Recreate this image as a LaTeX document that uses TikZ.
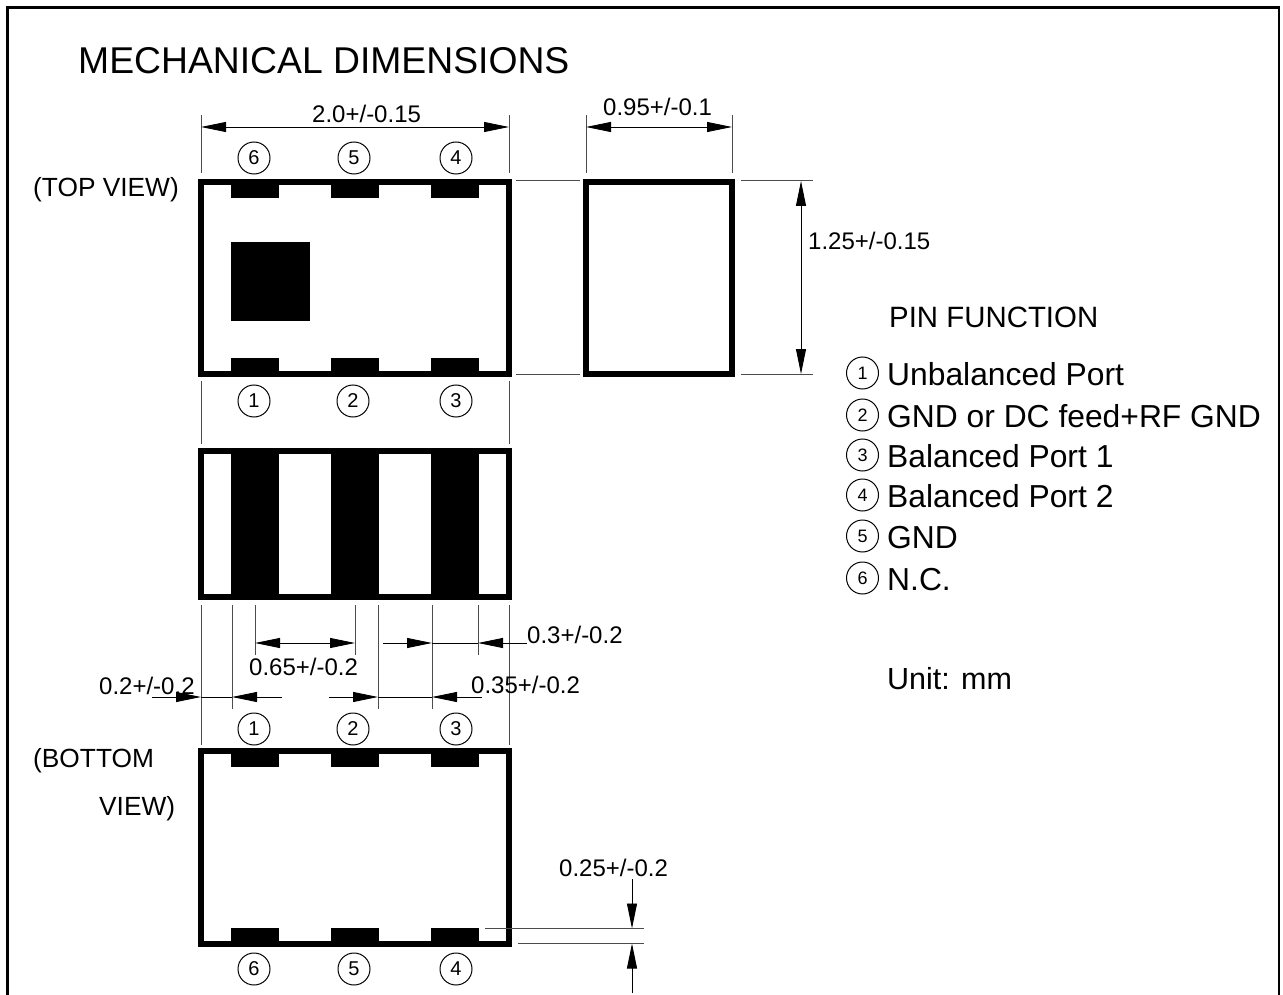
\documentclass[tikz,border=0pt]{standalone}
\usepackage{fontspec}
\setmainfont{Liberation Sans}
\usetikzlibrary{arrows.meta}
\tikzstyle{every node}=[inner sep=0pt,anchor=base west,text=black]
\tikzstyle{body}=[draw=black,line width=6pt]
\tikzstyle{pad}=[fill=black]
\tikzstyle{extline}=[draw=black!70,line width=1pt]
\tikzstyle{dimline}=[draw=black,line width=0.9pt]
\tikzstyle{pinmark}=[draw=black,line width=1pt,circle,minimum size=32pt,anchor=center,font=\fontsize{20}{20}\selectfont]
\tikzstyle{keymark}=[pinmark,font=\fontsize{18}{18}\selectfont]
\tikzstyle{dimtext}=[font=\fontsize{24}{24}\selectfont]
\tikzstyle{viewtext}=[font=\fontsize{26.3}{26.3}\selectfont]
\tikzstyle{pintext}=[font=\fontsize{31.8}{31.8}\selectfont]
\begin{document}
\begin{tikzpicture}[x=1pt,y=-1pt,>={Triangle[length=25pt,width=10pt]}]
    \useasboundingbox (0,0) rectangle (1283,995);
    \draw[line width=2.5pt] (7.5,995) -- (7.5,7.5) -- (1279,7.5) -- (1279,995);
    \node[font=\fontsize{37.3}{37.3}\selectfont] (title) at (78,74) {MECHANICAL DIMENSIONS};
    \node[viewtext] (topview) at (33,197) {(TOP VIEW)};
    \node[viewtext] (bottomview) at (33,767) {(BOTTOM};
    \node[viewtext] (bottomview2) at (99,815) {VIEW)};
    % views
    \foreach \x in {231,331,431} {
        \fill[pad] (\x,182) rectangle +(48,16);
        \fill[pad] (\x,358) rectangle +(48,16);
        \fill[pad] (\x,451) rectangle +(48,146);
        \fill[pad] (\x,751) rectangle +(48,16);
        \fill[pad] (\x,928) rectangle +(48,16);
    }
    \fill[pad] (231,242) rectangle (310,321);
    \draw[body] (201,182) rectangle (509,374);
    \draw[body] (586,182) rectangle (732,374);
    \draw[body] (201,451) rectangle (509,597);
    \draw[body] (201,751) rectangle (509,944);
    % pin numbers
    \foreach \n/\x in {6/254,5/354,4/456} {
        \node[pinmark] (top\n) at (\x,158) {\n};
        \node[pinmark] (bot\n) at (\x,969) {\n};
    }
    \foreach \n/\x in {1/254,2/353,3/456} {
        \node[pinmark] (mid\n) at (\x,401) {\n};
        \node[pinmark] (low\n) at (\x,729) {\n};
    }
    % extension lines
    \foreach \x in {201,509,586,732} \draw[extline] (\x,115) -- (\x,173);
    \foreach \x in {201,509} {
        \draw[extline] (\x,381) -- (\x,444);
        \draw[extline] (\x,605) -- (\x,745);
    }
    \foreach \x in {232,378,432} \draw[extline] (\x,605) -- (\x,709);
    \foreach \x in {255,355,478} \draw[extline] (\x,605) -- (\x,655);
    \foreach \y in {181,374} {
        \draw[extline] (516,\y) -- (580,\y);
        \draw[extline] (741,\y) -- (813,\y);
    }
    \draw[extline] (485,928.5) -- (644,928.5);
    \draw[extline] (518,943.5) -- (644,943.5);
    % dimensions
    \draw[dimline,<->] (201,127) -- (509,127);
    \draw[dimline,<->] (586,127) -- (732,127);
    \draw[dimline,<->] (801,181) -- (801,374);
    \draw[dimline,<->] (255,643) -- (355,643);
    \draw[dimline,->] (383,643) -- (432,643);
    \draw[dimline,<-] (478,643) -- (527,643);
    \draw[dimline] (432,643) -- (478,643);
    \draw[dimline,->] (152,697) -- (201,697);
    \draw[dimline] (201,697) -- (232,697);
    \draw[dimline,<-] (232,697) -- (282,697);
    \draw[dimline,->] (329,697) -- (378,697);
    \draw[dimline] (378,697) -- (432,697);
    \draw[dimline,<-] (432,697) -- (482,697);
    \draw[dimline,->] (632,879) -- (632,928.5);
    \draw[dimline,<-] (632,943.5) -- (632,993);
    \node[dimtext] (width) at (312,123) {2.0+/-0.15};
    \node[dimtext] (thick) at (603,116) {0.95+/-0.1};
    \node[dimtext] (length) at (808,250) {1.25+/-0.15};
    \node[dimtext] (pitch) at (249,675) {0.65+/-0.2};
    \node[dimtext] (edge) at (99,694) {0.2+/-0.2};
    \node[dimtext] (gap) at (471,693) {0.35+/-0.2};
    \node[dimtext] (side) at (527,643) {0.3+/-0.2};
    \node[dimtext] (padh) at (559,876) {0.25+/-0.2};
    % pin function
    \node[font=\fontsize{29.4}{29.4}\selectfont] (pinfunction) at (889,327) {PIN FUNCTION};
    \foreach \n/\y/\t in {1/385/Unbalanced Port,2/427/GND or DC feed+RF GND,3/467/Balanced Port 1,4/507/Balanced Port 2,5/548/GND,6/590/N.C.} {
        \node[keymark] (key\n) at (862.5,\y-12) {\n};
        \node[pintext] (fn\n) at (887,\y) {\t};
    }
    \node[font=\fontsize{30.5}{30.5}\selectfont] (unit) at (887,689) {Unit: mm};
\end{tikzpicture}
\end{document}
